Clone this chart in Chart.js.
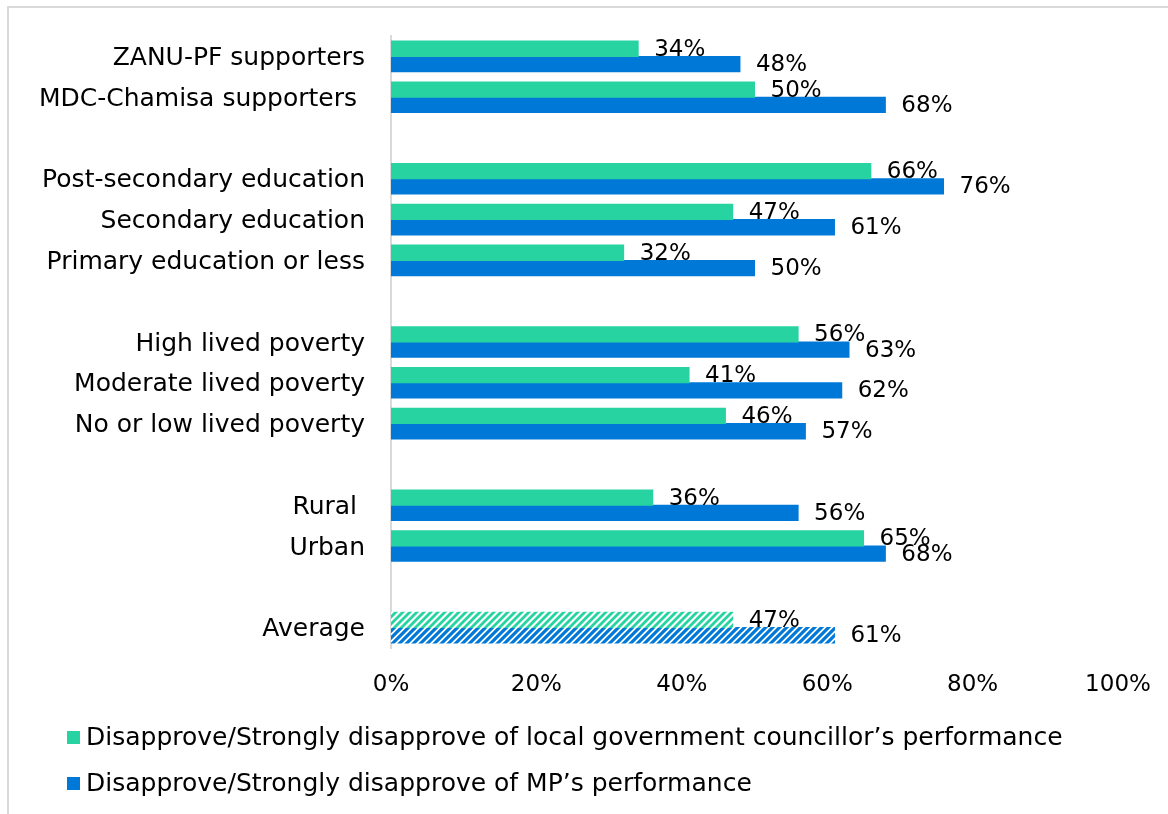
<!DOCTYPE html>
<html>
<head>
<meta charset="utf-8">
<script src="https://cdn.jsdelivr.net/npm/chart.js@4.4.1/dist/chart.umd.min.js"></script>
<style>
    html, body { margin: 0; padding: 0; background: #ffffff; }
    #wrap { position: relative; width: 1168px; height: 814px; overflow: hidden; }
    #frame { position: absolute; left: 7px; top: 6px; width: 1200px; height: 900px;
             border-left: 2px solid #d9d9d9; border-top: 2px solid #d9d9d9; box-sizing: border-box; }
    #approvalChart { position: absolute; left: 0; top: 0; }
</style>
</head>
<body>
<div id="wrap">
    <div id="frame"></div>
    <canvas id="approvalChart" width="1168" height="814"></canvas>
</div>
<script>
// grupos (las filas vacías separan los bloques)
const categories = [
    'ZANU-PF supporters', 'MDC-Chamisa supporters ', '',
    'Post-secondary education', 'Secondary education', 'Primary education or less', '',
    'High lived poverty', 'Moderate lived poverty', 'No or low lived poverty', '',
    'Rural ', 'Urban', '',
    'Average'
];
const councillorValues = [34, 50, null, 66, 47, 32, null, 56, 41, 46, null, 36, 65, null, 47];
const mpValues = [48, 68, null, 76, 61, 50, null, 63, 62, 57, null, 56, 68, null, 61];
const xTicks = [0, 20, 40, 60, 80, 100];
const seriesNames = [
    'Disapprove/Strongly disapprove of local government councillor\u2019s performance',
    'Disapprove/Strongly disapprove of MP\u2019s performance'
];

const GREEN = '#26d3a1';
const BLUE = '#0078d7';
const FONT = "'DejaVu Sans', sans-serif";
const LABEL_SIZE = 25;   // categorías y leyenda
const VALUE_SIZE = 23;   // porcentajes y eje x

// rayado diagonal para la fila "Average"
function stripePattern(color, width) {
    const size = 7;
    const c = document.createElement('canvas');
    c.width = size;
    c.height = size;
    const g = c.getContext('2d');
    g.fillStyle = '#ffffff';
    g.fillRect(0, 0, size, size);
    g.strokeStyle = color;
    g.lineWidth = width;
    g.beginPath();
    g.moveTo(-1, size + 1); g.lineTo(size + 1, -1);
    g.moveTo(-2, 2); g.lineTo(2, -2);
    g.moveTo(size - 2, size + 2); g.lineTo(size + 2, size - 2);
    g.stroke();
    return g.createPattern(c, 'repeat');
}

const ctx = document.getElementById('approvalChart').getContext('2d');
const averageIndex = categories.indexOf('Average');
const greenStripes = stripePattern(GREEN, 2.8);
const blueStripes = stripePattern(BLUE, 3.2);

function barColor(solid, striped) {
    return (context) => context.dataIndex === averageIndex ? striped : solid;
}

// etiquetas de valor al final de cada barra
const valueLabels = {
    id: 'valueLabels',
    afterDatasetsDraw(chart) {
        const c = chart.ctx;
        c.save();
        c.font = `${VALUE_SIZE}px ${FONT}`;
        c.fillStyle = '#000000';
        c.textAlign = 'left';
        c.textBaseline = 'middle';
        chart.data.datasets.forEach((ds, i) => {
            const meta = chart.getDatasetMeta(i);
            meta.data.forEach((bar, j) => {
                const v = ds.data[j];
                if (v === null || v === undefined) return;
                c.fillText(v + '%', bar.x + 16, bar.y + 1);
            });
        });
        c.restore();
    }
};

// leyenda en dos líneas, alineada a la izquierda
const stackedLegend = {
    id: 'stackedLegend',
    afterDraw(chart) {
        const c = chart.ctx;
        const colors = [GREEN, BLUE];
        const rows = [738, 784];
        c.save();
        c.font = `${LABEL_SIZE}px ${FONT}`;
        c.textAlign = 'left';
        c.textBaseline = 'middle';
        seriesNames.forEach((name, i) => {
            c.fillStyle = colors[i];
            c.fillRect(67, rows[i] - 7, 13, 13);
            c.fillStyle = '#000000';
            c.fillText(name, 86, rows[i]);
        });
        c.restore();
    }
};

new Chart(ctx, {
    type: 'bar',
    data: {
        labels: categories,
        datasets: [
            {
                label: seriesNames[0],
                data: councillorValues,
                backgroundColor: barColor(GREEN, greenStripes),
                borderWidth: 0,
                inflateAmount: 0.5
            },
            {
                label: seriesNames[1],
                data: mpValues,
                backgroundColor: barColor(BLUE, blueStripes),
                borderWidth: 0,
                inflateAmount: 0.5
            }
        ]
    },
    options: {
        indexAxis: 'y',
        responsive: false,
        animation: false,
        categoryPercentage: 0.75,
        barPercentage: 1.0,
        layout: { padding: { top: 36, right: 50, bottom: 106, left: 0 } },
        plugins: {
            legend: { display: false },
            tooltip: { enabled: false }
        },
        scales: {
            x: {
                min: 0,
                max: 100,
                afterBuildTicks: (scale) => { scale.ticks = xTicks.map(v => ({ value: v })); },
                afterFit: (scale) => { scale.height = 60; },
                grid: { display: false },
                border: { display: false },
                ticks: {
                    callback: (v) => v + '%',
                    color: '#000000',
                    padding: 15,
                    maxRotation: 0,
                    font: { size: VALUE_SIZE, family: FONT }
                }
            },
            y: {
                afterFit: (scale) => { scale.width = 391; },
                grid: { display: false },
                border: { display: true, color: '#d9d9d9', width: 2 },
                ticks: {
                    color: '#000000',
                    padding: 18,
                    labelOffset: 2,
                    autoSkip: false,
                    font: { size: LABEL_SIZE, family: FONT }
                }
            }
        }
    },
    plugins: [valueLabels, stackedLegend]
});
</script>
</body>
</html>
